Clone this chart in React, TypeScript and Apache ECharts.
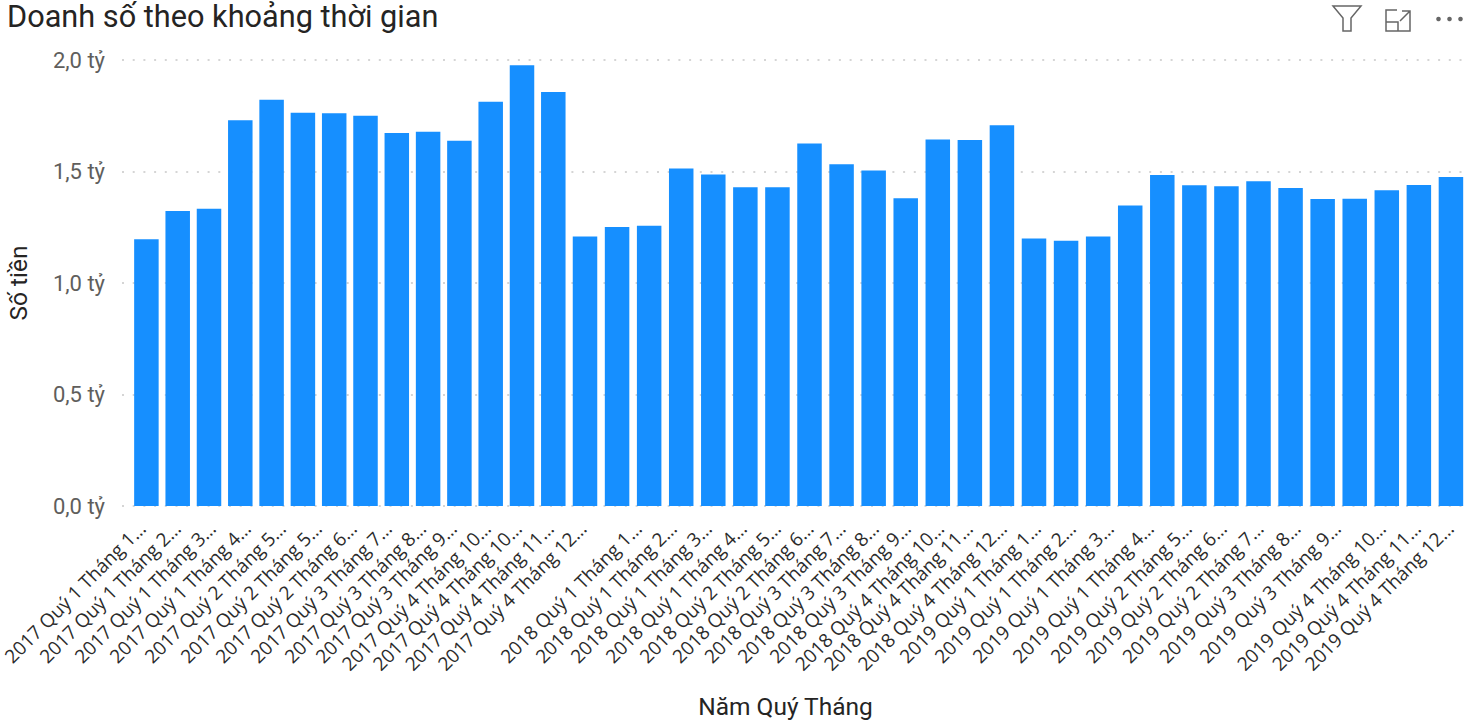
import React, { useEffect, useRef } from "react";
import * as echarts from "echarts";

const sales2017 = [1.196, 1.323, 1.333, 1.73, 1.822, 1.764, 1.761, 1.75, 1.673, 1.678, 1.638, 1.813, 1.976, 1.857];
const sales2018 = [1.208, 1.251, 1.257, 1.514, 1.486, 1.429, 1.429, 1.626, 1.532, 1.504, 1.38, 1.643, 1.641, 1.707];
const sales2019 = [1.2, 1.19, 1.208, 1.348, 1.484, 1.438, 1.434, 1.456, 1.426, 1.377, 1.378, 1.416, 1.439, 1.475];
const laterValues = [...sales2018, ...sales2019];
const categories2017 = sales2017.map((_, i) => "2017-" + (i + 1));
const laterCategories = laterValues.map((_, i) => "later-" + (i + 1));

const labels2017 = [
  "2017 Quý 1 Tháng 1…", "2017 Quý 1 Tháng 2…", "2017 Quý 1 Tháng 3…", "2017 Quý 1 Tháng 4…",
  "2017 Quý 2 Tháng 5…", "2017 Quý 2 Tháng 5…", "2017 Quý 2 Tháng 6…",
  "2017 Quý 3 Tháng 7…", "2017 Quý 3 Tháng 8…", "2017 Quý 3 Tháng 9…",
  "2017 Quý 4 Tháng 10…", "2017 Quý 4 Tháng 10…", "2017 Quý 4 Tháng 11…", "2017 Quý 4 Tháng 12…",
];
const labels2018 = [
  "2018 Quý 1 Tháng 1…", "2018 Quý 1 Tháng 2…", "2018 Quý 1 Tháng 3…", "2018 Quý 1 Tháng 4…",
  "2018 Quý 2 Tháng 5…", "2018 Quý 2 Tháng 6…", "2018 Quý 3 Tháng 7…", "2018 Quý 3 Tháng 8…",
  "2018 Quý 3 Tháng 9…", "2018 Quý 4 Tháng 10…", "2018 Quý 4 Tháng 11…", "2018 Quý 4 Tháng 12…",
];
const labels2019 = [
  "2019 Quý 1 Tháng 1…", "2019 Quý 1 Tháng 2…", "2019 Quý 1 Tháng 3…", "2019 Quý 1 Tháng 4…",
  "2019 Quý 2 Tháng 5…", "2019 Quý 2 Tháng 6…", "2019 Quý 2 Tháng 7…", "2019 Quý 3 Tháng 8…",
  "2019 Quý 3 Tháng 9…", "2019 Quý 4 Tháng 10…", "2019 Quý 4 Tháng 11…", "2019 Quý 4 Tháng 12…",
];
const tickLabels = [...labels2017, ...labels2018, ...labels2019];

// Where each tick label sits, in bar-slot units (0 = first bar's centre).
const labelSlots = [
  0.02, 1.12, 2.22, 3.32, 4.42, 5.55, 6.65, 7.75, 8.82, 9.79, 10.86, 11.83, 12.84, 13.87,
  15.6, 16.7, 17.8, 18.9, 19.97, 21.0, 22.0, 23.05, 24.05, 25.1, 26.0, 27.07,
  28.14, 29.24, 30.43, 31.69, 32.88, 33.98, 35.14, 36.3, 37.56, 38.98, 40.08, 41.11,
];

const TITLE_FONT = "Roboto";
const LABEL_FONT = "'Open Sans', sans-serif";
const ICON = "#666666";
const BAR = "#168FFF";
const INK = "#252423";

echarts.graphic.registerShape(
  "focusIcon",
  echarts.graphic.extendPath(
    "M1397 10H1386V31H1410V18M1386 22H1398V31M1400 21L1410 11M1402 11H1410V18",
    {}
  )
);

const hiddenAxis = {
  axisLine: { show: false },
  axisTick: { show: false },
  axisLabel: { show: false },
  splitLine: { show: false },
};

export default function App() {
  const ref = useRef<HTMLDivElement>(null);
  useEffect(() => {
    const chart = echarts.init(ref.current!, undefined, { renderer: "svg" });
    chart.setOption({
      animation: false,
      backgroundColor: "#ffffff",
      title: {
        text: "Doanh số theo khoảng thời gian",
        left: 7,
        top: 1,
        padding: 0,
        textStyle: { fontFamily: TITLE_FONT, fontSize: 30.7, fontWeight: 400, color: INK },
      },
      grid: [
        { left: 122, width: 1345, top: 60, height: 446, outerBoundsMode: "none" },
        { left: 130.75, width: 438.2, top: 60, height: 446, outerBoundsMode: "none" },
        { left: 568.97, width: 898, top: 60, height: 446, outerBoundsMode: "none" },
      ],
      xAxis: [
        {
          type: "value",
          gridIndex: 0,
          position: "bottom",
          min: -0.617,
          max: 41.64,
          splitLine: { show: false },
          axisLine: { show: false },
          axisTick: { show: false },
          name: "Năm Quý Tháng",
          nameLocation: "middle",
          nameGap: 188,
          nameTextStyle: { fontFamily: TITLE_FONT, fontSize: 24.5, color: INK, padding: [0, 18, 0, 0] },
          axisLabel: {
            customValues: labelSlots,
            formatter: (v: number) => tickLabels[labelSlots.indexOf(v)],
            rotate: 45,
            margin: 19,
            fontFamily: LABEL_FONT,
            fontSize: 19,
            color: "#2B2B2B",
          },
        },
        { type: "category", gridIndex: 1, data: categories2017, ...hiddenAxis },
        { type: "category", gridIndex: 2, data: laterCategories, ...hiddenAxis },
      ],
      yAxis: [
        {
          type: "value",
          gridIndex: 0,
          min: 0,
          max: 2,
          interval: 0.5,
          axisLine: { show: false },
          axisTick: { show: false },
          axisLabel: {
            margin: 17,
            formatter: (v: number) => v.toFixed(1).replace(".", ",") + " tỷ",
            fontFamily: TITLE_FONT,
            fontSize: 22,
            color: "#605E5C",
          },
          splitLine: { lineStyle: { type: [2, 8.7], width: 1.5, color: "#C8C8C8" } },
          name: "Số tiền",
          nameLocation: "middle",
          nameGap: 91,
          nameTextStyle: { fontFamily: TITLE_FONT, fontSize: 24.5, color: INK },
        },
        { type: "value", gridIndex: 1, min: 0, max: 2, interval: 0.5, ...hiddenAxis },
        { type: "value", gridIndex: 2, min: 0, max: 2, interval: 0.5, ...hiddenAxis },
      ],
      series: [
        { type: "bar", xAxisIndex: 1, yAxisIndex: 1, data: sales2017, barWidth: 24.5, itemStyle: { color: BAR } },
        { type: "bar", xAxisIndex: 2, yAxisIndex: 2, data: laterValues, barWidth: 24.5, itemStyle: { color: BAR } },
      ],
      graphic: [
        {
          type: "polygon",
          shape: { points: [[1333, 6], [1361, 6], [1351, 18], [1351, 31], [1343, 31], [1343, 18]] },
          style: { fill: "none", stroke: ICON, lineWidth: 1.5 },
        },
        { type: "focusIcon", style: { fill: "none", stroke: ICON, lineWidth: 1.5 } },
        { type: "circle", shape: { cx: 1438.5, cy: 19, r: 2.3 }, style: { fill: ICON } },
        { type: "circle", shape: { cx: 1449.5, cy: 19, r: 2.3 }, style: { fill: ICON } },
        { type: "circle", shape: { cx: 1460.5, cy: 19, r: 2.3 }, style: { fill: ICON } },
      ],
    });
    return () => chart.dispose();
  }, []);
  return <div ref={ref} style={{ position: "absolute", left: 0, top: 0, width: 1472, height: 720 }} />;
}
